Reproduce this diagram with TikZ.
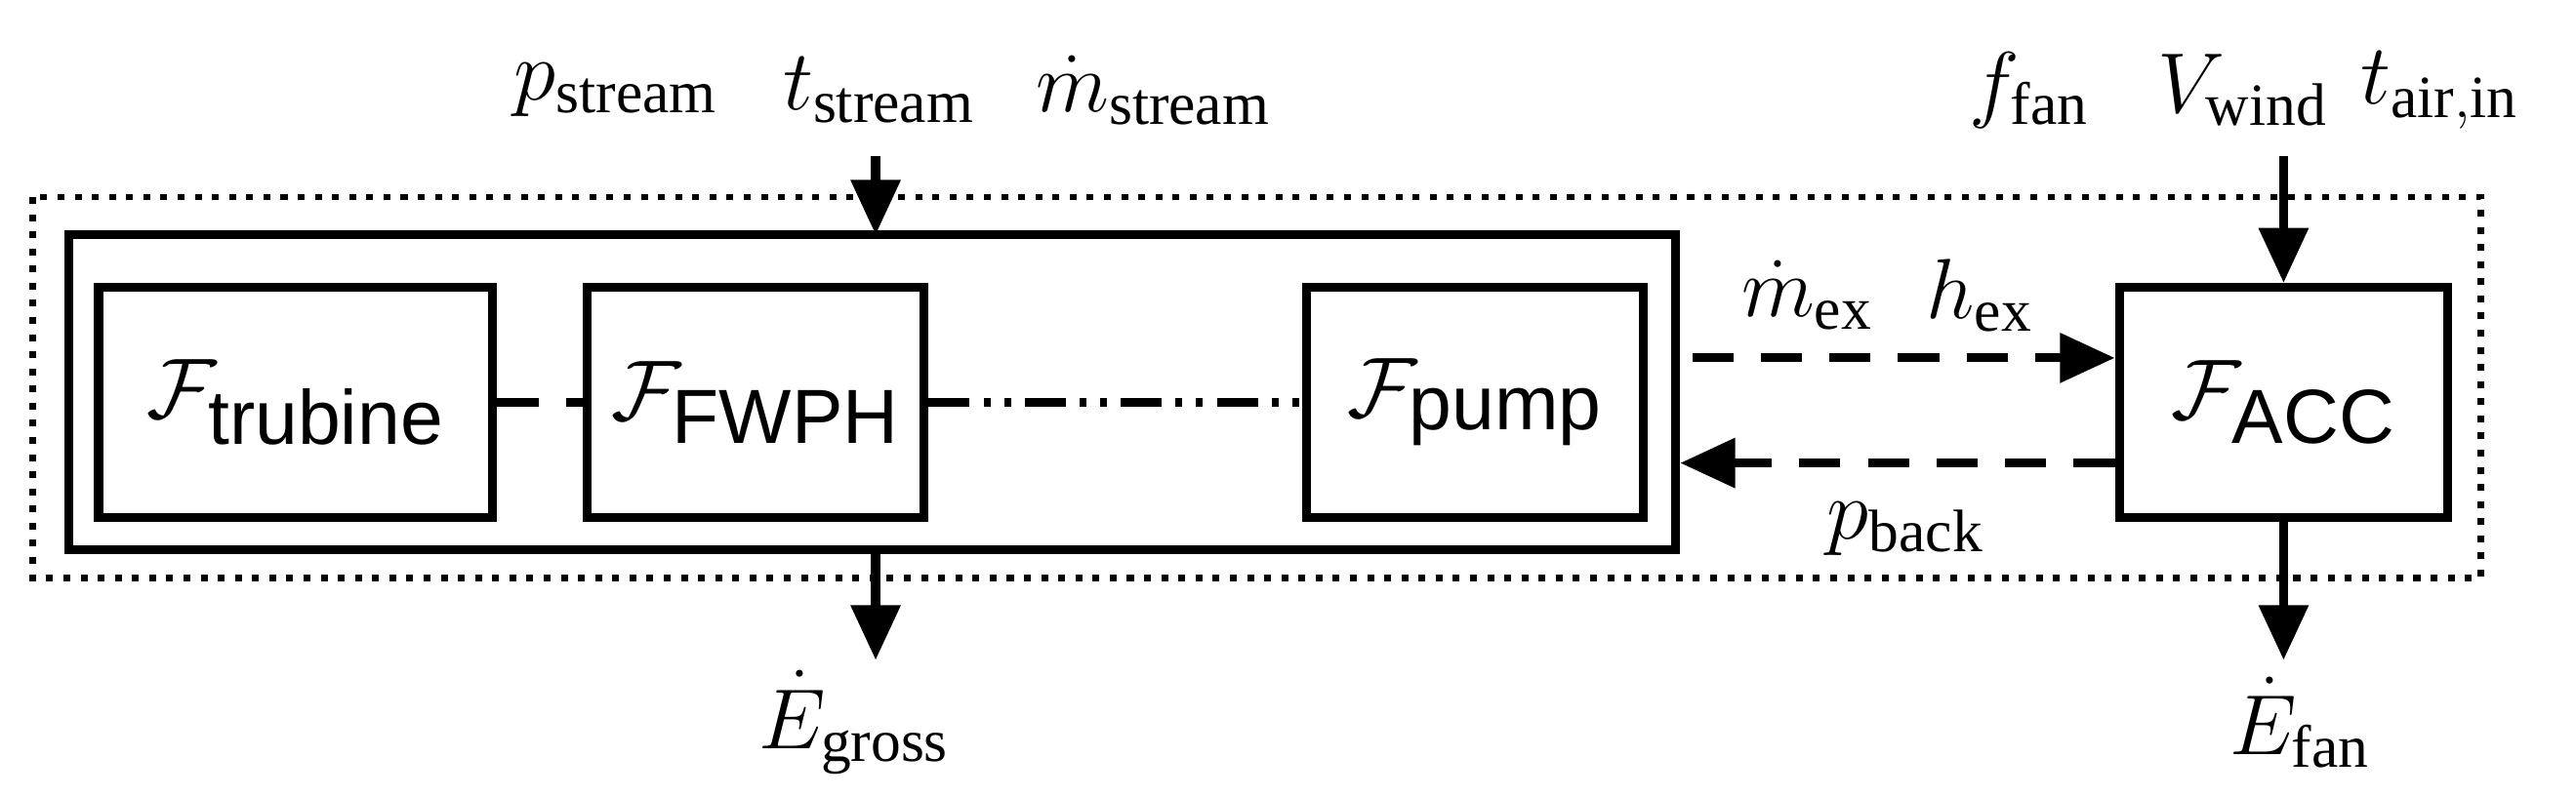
\documentclass[tikz,border=0pt]{standalone}
\usepackage{fontspec}
\setmainfont{Liberation Serif}
\setsansfont{Liberation Sans}
\usetikzlibrary{arrows.meta}
\begin{document}
\begin{tikzpicture}[x=0.01683cm,y=-0.01683cm,
  box/.style={draw,line width=2.6pt,inner sep=0pt},
  lab/.style={font=\fontsize{25}{30}\selectfont,inner sep=0pt},
  flab/.style={font=\fontsize{32}{36}\selectfont,inner sep=0pt},
  arr/.style={line width=2.6pt,-{Triangle[length=16pt,width=14pt]}},
  darr/.style={line width=2.6pt,dash pattern=on 12pt off 8pt,-{Triangle[length=16pt,width=14pt]}}]
\useasboundingbox (0,0) rectangle (1568,485);
\draw[line width=1.8pt,dash pattern=on 2pt off 3pt] (20,120) rectangle (1510,352);
\node[box,minimum width=978*0.01683cm,minimum height=192*0.01683cm] (sys) at (531,239) {};
\node[box,minimum width=240*0.01683cm,minimum height=140*0.01683cm,flab] (tur) at (180,245) {$\mathcal{F}_{\mathsf{trubine}}$};
\node[box,minimum width=205*0.01683cm,minimum height=140*0.01683cm,flab] (fw) at (460,245) {$\mathcal{F}_{\mathsf{FWPH}}$};
\node[box,minimum width=205*0.01683cm,minimum height=140*0.01683cm,flab] (pu) at (898,245) {$\mathcal{F}_{\mathsf{pump}}$};
\node[box,minimum width=200*0.01683cm,minimum height=140*0.01683cm,flab] (acc) at (1390,245) {$\mathcal{F}_{\mathsf{ACC}}$};
\draw[line width=2.6pt,dash pattern=on 12pt off 8pt] (tur.east) -- (fw.west);
\draw[line width=2.6pt,dash pattern=on 12pt off 4pt on 2pt off 4pt on 2pt off 4pt] (fw.east) -- (pu.west);
\coordinate (a1) at (1030,218); \coordinate (a2) at (acc.west|-a1);
\draw[darr] (a1) -- (a2);
\coordinate (b1) at (acc.west|-0,282); \coordinate (b2) at (sys.east|-b1);
\draw[darr] (b1) -- (b2);
\node[lab] (mex) at (1100,180) {$\dot{m}_{\mathrm{ex}}$};
\node[lab] (hex) at (1205,180) {$h_{\mathrm{ex}}$};
\node[lab] (pb) at (1160,322) {$p_{\mathrm{back}}$};
\node[lab] (ps) at (375,55) {$p_{\mathrm{stream}}$};
\node[lab] (ts) at (535,55) {$t_{\mathrm{stream}}$};
\node[lab] (ms) at (702,55) {$\dot{m}_{\mathrm{stream}}$};
\node[lab] (ff) at (1235,55) {$f_{\mathrm{fan}}$};
\node[lab] (vw) at (1365,55) {$V_{\mathrm{wind}}$};
\node[lab] (ta) at (1485,55) {$t_{\mathrm{air,in}}$};
\coordinate (t1) at (533,95); \coordinate (t2) at (533,143);
\draw[arr] (t1) -- (t2);
\coordinate (v1) at (1390,95);
\draw[arr] (v1) -- (acc.north);
\node[lab] (eg) at (520,440) {$\dot{E}_{\mathrm{gross}}$};
\node[lab] (ef) at (1400,440) {$\dot{E}_{\mathrm{fan}}$};
\coordinate (g1) at (533,335); \coordinate (g2) at (533,402);
\draw[arr] (g1) -- (g2);
\coordinate (f2) at (1390,402);
\draw[arr] (acc.south) -- (f2);
\end{tikzpicture}
\end{document}
